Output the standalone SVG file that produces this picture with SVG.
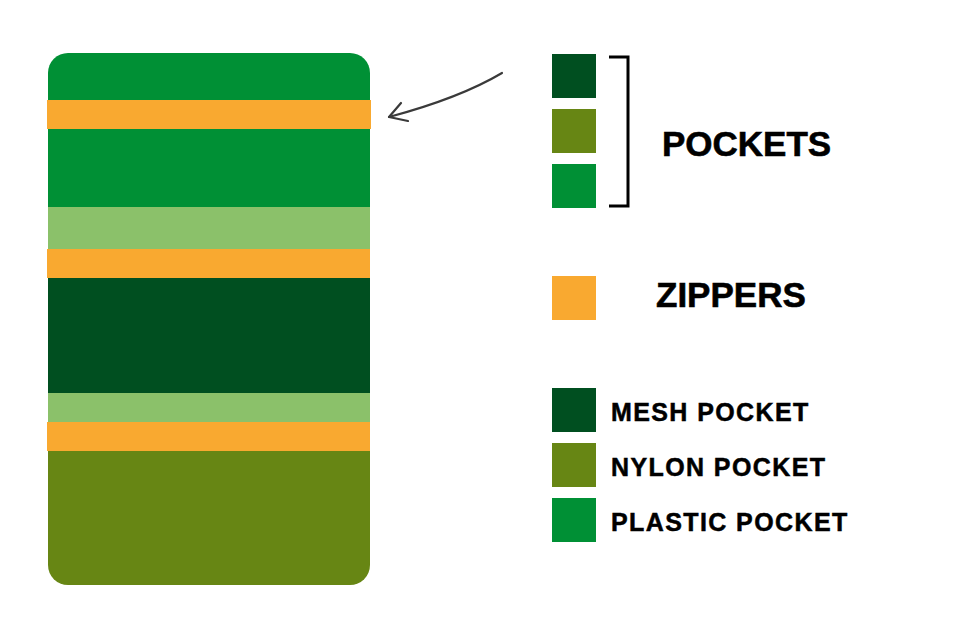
<svg xmlns="http://www.w3.org/2000/svg" width="960" height="640" viewBox="0 0 960 640">
<style>
.plastic{fill:#009035}
.zip{fill:#F9A930}
.light{fill:#8BC16A}
.mesh{fill:#004F20}
.nylon{fill:#678614}
.big{font-family:"Liberation Sans",Arial,sans-serif;font-weight:bold;font-size:35px;fill:#000;stroke:#000;stroke-width:0.6}
.small{font-family:"Liberation Sans",Arial,sans-serif;font-weight:bold;font-size:25px;letter-spacing:1.4px;fill:#000;stroke:#000;stroke-width:0.5}
</style>
<defs>
<clipPath id="bodyClip"><rect x="48" y="53" width="322" height="532" rx="20" ry="20"/></clipPath>
</defs>
<rect width="960" height="640" fill="#fff"/>
<g id="backpack">
<g clip-path="url(#bodyClip)">
<rect class="plastic" x="40" y="50" width="340" height="52"/>
<rect class="plastic" x="40" y="128" width="340" height="80"/>
<rect class="light" x="40" y="207" width="340" height="43"/>
<rect class="mesh" x="40" y="277" width="340" height="117"/>
<rect class="light" x="40" y="393" width="340" height="30"/>
<rect class="nylon" x="40" y="450" width="340" height="140"/>
</g>
<rect class="zip" x="47" y="100" width="324" height="29"/>
<rect class="zip" x="47" y="249" width="323" height="29"/>
<rect class="zip" x="47" y="422" width="323" height="29"/>
</g>
<g id="connectors">
<path d="M502,73 C470,92 430,106 389,117" fill="none" stroke="#3a3a3a" stroke-width="2.2" stroke-linecap="round"/>
<path d="M401,103 L389,117 L408,121" fill="none" stroke="#3a3a3a" stroke-width="2.2" stroke-linecap="round" stroke-linejoin="round"/>
</g>
<g id="legend-pockets">
<rect class="mesh" x="552" y="54" width="44" height="44"/>
<rect class="nylon" x="552" y="109" width="44" height="44"/>
<rect class="plastic" x="552" y="164" width="44" height="44"/>
<path d="M609,57 L628,57 L628,206 L609,206" fill="none" stroke="#000" stroke-width="3"/>
<text class="big" x="662" y="156">POCKETS</text>
</g>
<g id="legend-zippers">
<rect class="zip" x="552" y="276" width="44" height="44"/>
<text class="big" x="656" y="307">ZIPPERS</text>
</g>
<g id="legend-mesh">
<rect class="mesh" x="552" y="388" width="44" height="44"/>
<text class="small" x="611" y="421">MESH POCKET</text>
</g>
<g id="legend-nylon">
<rect class="nylon" x="552" y="443" width="44" height="44"/>
<text class="small" x="611" y="476">NYLON POCKET</text>
</g>
<g id="legend-plastic">
<rect class="plastic" x="552" y="498" width="44" height="44"/>
<text class="small" x="611" y="531">PLASTIC POCKET</text>
</g>
</svg>
